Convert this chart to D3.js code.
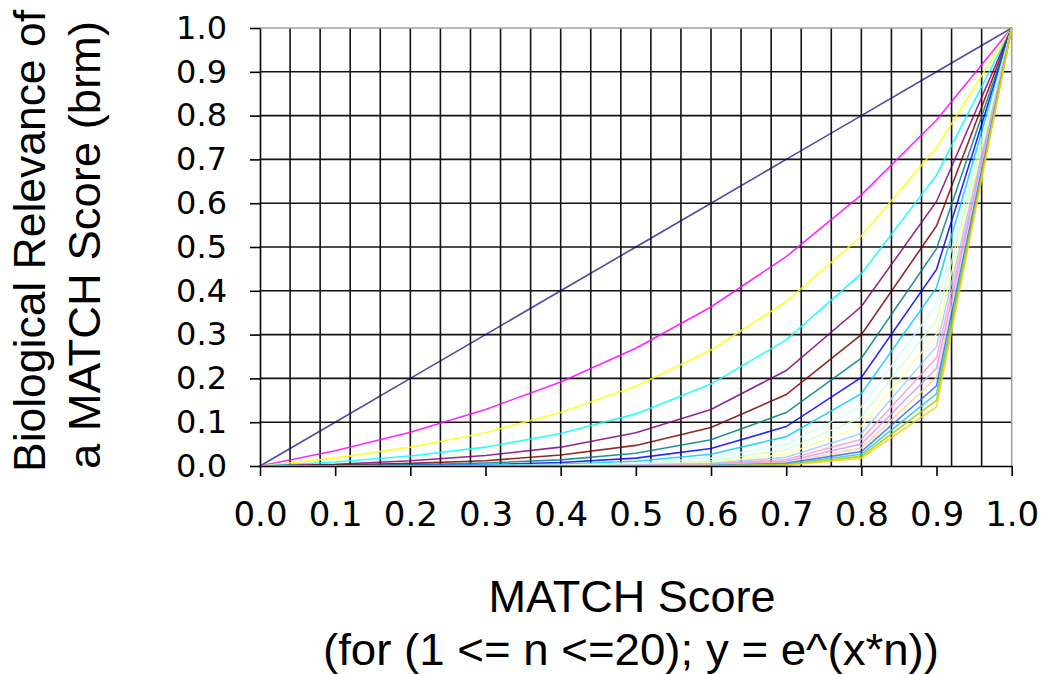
<!DOCTYPE html>
<html>
<head>
<meta charset="utf-8">
<script src="https://cdn.jsdelivr.net/npm/d3@7"></script>
<style>
  body { margin: 0; background: #fff; }
  svg { display: block; }
</style>
</head>
<body>
<svg id="chart" width="1043" height="674"></svg>
<script>
// x values of every series
var matchScores = [0, 0.1, 0.2, 0.3, 0.4, 0.5, 0.6, 0.7, 0.8, 0.9, 1.0];

// one series per n
var nValues = [1, 2, 3, 4, 5, 6, 7, 8, 9, 10, 11, 12, 13, 14, 15, 16, 17, 18, 19, 20];

// brm, one row per n
var brmValues = [
    [0, 0.100, 0.200, 0.300, 0.400, 0.500, 0.600, 0.700, 0.800, 0.900, 1],
    [0, 0.035, 0.077, 0.129, 0.192, 0.269, 0.363, 0.478, 0.619, 0.790, 1],
    [0, 0.018, 0.043, 0.076, 0.122, 0.182, 0.265, 0.375, 0.525, 0.727, 1],
    [0, 0.009, 0.023, 0.043, 0.074, 0.119, 0.187, 0.288, 0.439, 0.664, 1],
    [0, 0.004, 0.012, 0.024, 0.043, 0.076, 0.129, 0.218, 0.364, 0.604, 1],
    [0, 0.002, 0.006, 0.012, 0.025, 0.047, 0.088, 0.163, 0.300, 0.548, 1],
    [0, 0.001, 0.003, 0.007, 0.014, 0.029, 0.060, 0.122, 0.246, 0.496, 1],
    [0, 0.000, 0.001, 0.003, 0.008, 0.018, 0.040, 0.090, 0.202, 0.449, 1],
    [0, 0.000, 0.001, 0.002, 0.004, 0.011, 0.027, 0.067, 0.165, 0.407, 1],
    [0, 0.000, 0.000, 0.001, 0.002, 0.007, 0.018, 0.050, 0.135, 0.368, 1],
    [0, 0.000, 0.000, 0.000, 0.001, 0.004, 0.012, 0.037, 0.111, 0.333, 1],
    [0, 0.000, 0.000, 0.000, 0.001, 0.002, 0.008, 0.027, 0.091, 0.301, 1],
    [0, 0.000, 0.000, 0.000, 0.000, 0.002, 0.006, 0.020, 0.074, 0.273, 1],
    [0, 0.000, 0.000, 0.000, 0.000, 0.001, 0.004, 0.015, 0.061, 0.247, 1],
    [0, 0.000, 0.000, 0.000, 0.000, 0.001, 0.002, 0.011, 0.050, 0.223, 1],
    [0, 0.000, 0.000, 0.000, 0.000, 0.000, 0.002, 0.008, 0.041, 0.202, 1],
    [0, 0.000, 0.000, 0.000, 0.000, 0.000, 0.001, 0.006, 0.033, 0.183, 1],
    [0, 0.000, 0.000, 0.000, 0.000, 0.000, 0.001, 0.005, 0.027, 0.165, 1],
    [0, 0.000, 0.000, 0.000, 0.000, 0.000, 0.000, 0.003, 0.022, 0.150, 1],
    [0, 0.000, 0.000, 0.000, 0.000, 0.000, 0.000, 0.002, 0.018, 0.135, 1]
];

var lineColors = ['#000080', '#ff00ff', '#ffff00', '#00ffff', '#800080', '#800000', '#008080', '#0000ff',
    '#00ccff', '#ccffff', '#ccffcc', '#ffff99', '#99ccff', '#ff99cc', '#cc99ff', '#ffcc99',
    '#3366ff', '#33cccc', '#99cc00', '#ffcc00'];

var xTicks = [0, 0.1, 0.2, 0.3, 0.4, 0.5, 0.6, 0.7, 0.8, 0.9, 1.0];
var yTicks = [0, 0.1, 0.2, 0.3, 0.4, 0.5, 0.6, 0.7, 0.8, 0.9, 1.0];

var svg = d3.select('#chart');

var x = d3.scaleLinear().domain([0, 1]).range([260, 1011.7]);
var y = d3.scaleLinear().domain([0, 1]).range([466, 28]);

// grid: every 0.1 across, every 0.04 down
var grid = svg.append('g');
grid.selectAll('.hgrid').data(yTicks.slice(1, -1)).enter().append('line')
    .attr('x1', x(0)).attr('x2', x(1))
    .attr('y1', function(d) { return y(d); }).attr('y2', function(d) { return y(d); })
    .style('stroke', '#111').style('stroke-width', 1.6);
grid.selectAll('.vgrid').data(d3.range(1, 25).map(function(i) { return i * 0.04; })).enter().append('line')
    .attr('y1', y(0)).attr('y2', y(1))
    .attr('x1', function(d) { return x(d); }).attr('x2', function(d) { return x(d); })
    .style('stroke', '#111').style('stroke-width', 1.6);

// grey plot border on top and right
svg.append('path')
    .attr('d', 'M' + x(0) + ',' + y(1) + 'H' + x(1) + 'V' + y(0))
    .style('fill', 'none').style('stroke', '#a0a0a0').style('stroke-width', 1.6);

// series
var line = d3.line()
    .x(function(d, i) { return x(matchScores[i]); })
    .y(function(d) { return y(d); });

svg.append('g').selectAll('path').data(brmValues).enter().append('path')
    .attr('d', line)
    .style('fill', 'none')
    .style('stroke', function(d, i) { return lineColors[i]; })
    .style('stroke-opacity', function(d, i) { return i == 0 ? 0.7 : 0.85; })
    .style('stroke-width', 1.6);

// axes
var yAxis = svg.append('g')
    .attr('transform', 'translate(' + x(0) + ',0)')
    .call(d3.axisLeft(y).tickValues(yTicks).tickFormat(d3.format('.1f'))
        .tickSize(10).tickSizeOuter(0).tickPadding(23));

var xAxis = svg.append('g')
    .attr('transform', 'translate(0,' + y(0) + ')')
    .call(d3.axisBottom(x).tickValues(xTicks).tickFormat(d3.format('.1f'))
        .tickSize(10).tickSizeOuter(0).tickPadding(26));

svg.selectAll('.domain, .tick line').style('stroke', '#000').style('stroke-width', 1.6);
yAxis.selectAll('text').style('font-family', 'DejaVu Sans').style('font-size', '32px').style('fill', '#000');
xAxis.selectAll('text').style('font-family', 'DejaVu Sans').style('font-size', '34px').style('fill', '#000');

// titles
function title(txt, tx, ty, rot, len) {
    svg.append('text')
        .attr('transform', 'translate(' + tx + ',' + ty + ')' + (rot ? ' rotate(-90)' : ''))
        .attr('text-anchor', 'middle')
        .attr('textLength', len).attr('lengthAdjust', 'spacingAndGlyphs')
        .style('font-family', 'Liberation Sans').style('font-size', '44px')
        .text(txt);
}
title('Biological Relevance of', 45, 241, true, 462);
title('a MATCH Score (brm)', 100, 245, true, 448);
title('MATCH Score', 632, 612, false, 287);
title('(for (1 <= n <=20); y = e^(x*n))', 631, 665, false, 616);
</script>
</body>
</html>
